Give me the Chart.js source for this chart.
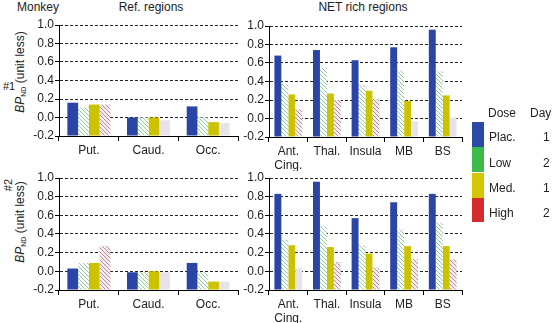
<!DOCTYPE html>
<html>
<head>
<meta charset="utf-8">
<script src="https://cdn.jsdelivr.net/npm/chart.js@4"></script>
<style>
  body { margin: 0; background: #fff; font-family: "Liberation Sans", Arial, sans-serif; color: #222; }
  #wrap { position: relative; width: 553px; height: 323px; overflow: hidden; }
  .pane { position: absolute; }
  .txt { position: absolute; font-size: 12px; line-height: 14px; white-space: nowrap; }
  .rot { transform: translate(-50%, -50%) rotate(-90deg); }
  .sw { position: absolute; left: 472px; width: 12px; }
  sub { font-size: 7px; vertical-align: -2px; }
</style>
</head>
<body>
<div id="wrap">
  <div class="txt" style="left:17px;top:0px">Monkey</div>
  <div class="txt" style="left:151px;top:0px;transform:translateX(-50%)">Ref. regions</div>
  <div class="txt" style="left:363px;top:0px;transform:translateX(-50%)">NET rich regions</div>

  <div class="txt" style="left:3px;top:79px;font-size:11px">#1</div>
  <div class="txt rot" style="left:8px;top:185px;font-size:11px">#2</div>
  <div class="txt rot" style="left:22px;top:72px"><i>BP</i><sub>ND</sub> (unit less)</div>
  <div class="txt rot" style="left:22px;top:222px"><i>BP</i><sub>ND</sub> (unit less)</div>

  <div class="pane" style="left:20px;top:15px"><canvas id="c1" width="222" height="155"></canvas></div>
  <div class="pane" style="left:230px;top:16px"><canvas id="c2" width="236" height="155"></canvas></div>
  <div class="pane" style="left:20px;top:168px"><canvas id="c3" width="222" height="156"></canvas></div>
  <div class="pane" style="left:230px;top:168px"><canvas id="c4" width="236" height="156"></canvas></div>

  <div class="txt" style="left:488px;top:106px">Dose</div>
  <div class="txt" style="left:530px;top:106px">Day</div>
  <div class="sw" style="top:122px;height:25px;background:#2d49a8"></div>
  <div class="sw" style="top:147px;height:25px;background:#3cba4a"></div>
  <div class="sw" style="top:173px;height:25px;background:#d4c600"></div>
  <div class="sw" style="top:198px;height:24px;background:#d42b2b"></div>
  <div class="txt" style="left:489px;top:130px">Plac.</div>
  <div class="txt" style="left:543px;top:130px">1</div>
  <div class="txt" style="left:489px;top:156px">Low</div>
  <div class="txt" style="left:543px;top:156px">2</div>
  <div class="txt" style="left:489px;top:181px">Med.</div>
  <div class="txt" style="left:543px;top:181px">1</div>
  <div class="txt" style="left:489px;top:206px">High</div>
  <div class="txt" style="left:543px;top:206px">2</div>
</div>

<script>
// categories
const refRegions = ['Put.', 'Caud.', 'Occ.'];
const netRegions = [['Ant.', 'Cing.'], 'Thal.', 'Insula', 'MB', 'BS'];

// monkey #1, reference regions
const m1RefPlac = [0.16, 0.00, 0.12];
const m1RefLow  = [0.11, 0.00, 0.00];
const m1RefMed  = [0.14, 0.00, -0.05];
const m1RefHigh = [0.14, -0.03, -0.06];

// monkey #1, NET rich regions
const m1NetPlac = [0.68, 0.74, 0.63, 0.77, 0.96];
const m1NetLow  = [0.37, 0.55, 0.36, 0.52, 0.51];
const m1NetMed  = [0.26, 0.27, 0.30, 0.19, 0.25];
const m1NetHigh = [0.10, 0.20, 0.21, -0.03, 0.01];

// monkey #2, reference regions
const m2RefPlac = [0.03, -0.01, 0.09];
const m2RefLow  = [0.09, -0.01, -0.01];
const m2RefMed  = [0.09, 0.00, -0.11];
const m2RefHigh = [0.27, -0.01, -0.11];

// monkey #2, NET rich regions
const m2NetPlac = [0.83, 0.96, 0.57, 0.74, 0.83];
const m2NetLow  = [0.34, 0.48, 0.28, 0.45, 0.52];
const m2NetMed  = [0.28, 0.26, 0.19, 0.27, 0.27];
const m2NetHigh = [0.03, 0.10, 0.04, 0.13, 0.13];

const yTicks = [-0.2, 0.0, 0.2, 0.4, 0.6, 0.8, 1.0];

function hatch(line, bg) {
    const s = 4;
    const c = document.createElement('canvas');
    c.width = s; c.height = s;
    const g = c.getContext('2d');
    g.fillStyle = bg;
    g.fillRect(0, 0, s, s);
    g.strokeStyle = line;
    g.lineWidth = 1;
    g.beginPath();
    g.moveTo(0, 0); g.lineTo(s, s);
    g.moveTo(-1, s - 1); g.lineTo(1, s + 1);
    g.moveTo(s - 1, -1); g.lineTo(s + 1, 1);
    g.stroke();
    return g.createPattern(c, 'repeat');
}

const greenHatch = hatch('#8fd096', '#ffffff');
const redHatch = hatch('#b88a98', '#f6eef0');
const fadedGray = '#e6e4e8';

function makePanel(id, labels, plac, low, med, high) {
    const ctx = document.getElementById(id).getContext('2d');
    const common = { base: -0.2, borderWidth: 0, categoryPercentage: 0.72, barPercentage: 1.0 };
    return new Chart(ctx, {
        type: 'bar',
        data: {
            labels: labels,
            datasets: [
                { ...common, label: 'Plac.', data: plac, backgroundColor: '#2b45a6' },
                { ...common, label: 'Low', data: low, backgroundColor: greenHatch },
                { ...common, label: 'Med.', data: med, backgroundColor: '#ccc200' },
                {
                    ...common, label: 'High', data: high,
                    // near-zero high-dose bars are drawn as faded grey blocks
                    backgroundColor: c => (c.raw !== undefined && c.raw < 0.035) ? fadedGray : redHatch
                }
            ]
        },
        options: {
            responsive: false,
            animation: false,
            events: [],
            layout: { padding: { top: 10, right: 4, left: 0, bottom: 0 } },
            plugins: { legend: { display: false }, tooltip: { enabled: false }, title: { display: false } },
            scales: {
                x: {
                    afterFit: s => { s.height = 34; },
                    grid: { display: true, drawOnChartArea: false, drawTicks: true, tickLength: 5, color: '#000', tickColor: '#000' },
                    border: { display: true, color: '#000', width: 1 },
                    ticks: { color: '#222', padding: 3, maxRotation: 0, autoSkip: false,
                             font: { family: '"Liberation Sans", Arial', size: 12, lineHeight: 1.15 } }
                },
                y: {
                    min: -0.2,
                    max: 1.0,
                    afterFit: s => { s.width = 39; },
                    afterBuildTicks: s => { s.ticks = yTicks.map(v => ({ value: v })); },
                    grid: { color: '#222', lineWidth: 1, tickLength: 4, tickColor: '#000', tickBorderDash: [] },
                    border: { display: true, color: '#000', width: 1, dash: [3, 2] },
                    ticks: { color: '#222', padding: 1, callback: v => Number(v).toFixed(1),
                             font: { family: '"Liberation Sans", Arial', size: 12 } }
                }
            }
        }
    });
}

makePanel('c1', refRegions, m1RefPlac, m1RefLow, m1RefMed, m1RefHigh);
makePanel('c2', netRegions, m1NetPlac, m1NetLow, m1NetMed, m1NetHigh);
makePanel('c3', refRegions, m2RefPlac, m2RefLow, m2RefMed, m2RefHigh);
makePanel('c4', netRegions, m2NetPlac, m2NetLow, m2NetMed, m2NetHigh);
</script>
</body>
</html>
